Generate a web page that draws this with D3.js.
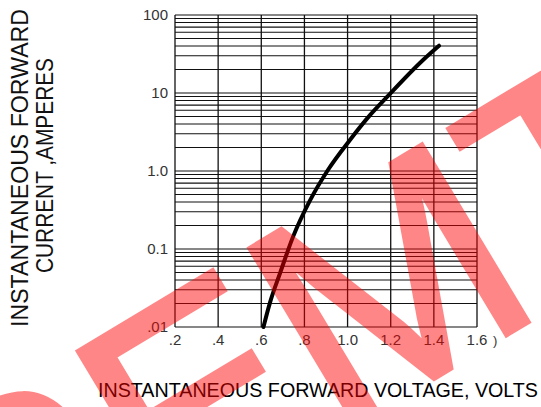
<!DOCTYPE html>
<html>
<head>
<meta charset="utf-8">
<script src="https://cdn.jsdelivr.net/npm/d3@7.9.0/dist/d3.min.js"></script>
<style>
  body { margin: 0; background: #fff; }
  svg { display: block; font-family: "Liberation Sans", Arial, sans-serif; }
</style>
</head>
<body>
<svg id="chart" width="541" height="407"></svg>
<script>
// forward voltage (V) vs instantaneous forward current (A)
const volts = [0.61, 0.64, 0.687, 0.747, 0.826, 0.909, 1.011, 1.104, 1.183, 1.35, 1.424];
const amps = [0.01, 0.0204, 0.049, 0.143, 0.42, 1.03, 2.5, 5.2, 8.9, 26.5, 40.4];

const xTicks = [0.2, 0.4, 0.6, 0.8, 1.0, 1.2, 1.4, 1.6];
const xTickLabels = [".2", ".4", ".6", ".8", "1.0", "1.2", "1.4", "1.6"];
const yTicks = [100, 10, 1, 0.1, 0.01];
const yTickLabels = ["100", "10", "1.0", "0.1", ".01"];

const svg = d3.select("#chart");

const x = d3.scaleLinear().domain([0.2, 1.6]).range([175, 477]);
const y = d3.scaleLog().domain([0.01, 100]).range([327, 15]);

// log grid: every 1..9 in each decade
const hLines = [];
[0.01, 0.1, 1, 10].forEach(dec => {
  for (let k = 1; k < 10; k++) hLines.push(dec * k);
});
hLines.push(100);

const grid = svg.append("g");
grid.selectAll("line.h")
  .data(hLines)
  .join("line")
  .attr("x1", x(0.2)).attr("x2", x(1.6))
  .attr("y1", d => y(d)).attr("y2", d => y(d))
  .attr("stroke", "#111")
  .attr("stroke-width", 1.1);

grid.selectAll("line.v")
  .data(xTicks)
  .join("line")
  .attr("x1", d => x(d)).attr("x2", d => x(d))
  .attr("y1", y(100)).attr("y2", y(0.01))
  .attr("stroke", "#111")
  .attr("stroke-width", 1.3);

// tick labels
svg.append("g").selectAll("text")
  .data(yTicks)
  .join("text")
  .attr("x", 168)
  .attr("y", d => y(d))
  .attr("dy", "0.35em")
  .attr("text-anchor", "end")
  .attr("font-size", 15)
  .attr("fill", "#333")
  .text((d, i) => yTickLabels[i]);

svg.append("g").selectAll("text")
  .data(xTicks)
  .join("text")
  .attr("x", d => x(d))
  .attr("y", 345)
  .attr("text-anchor", "middle")
  .attr("font-size", 15)
  .attr("fill", "#333")
  .text((d, i) => xTickLabels[i]);

svg.append("text")
  .attr("x", 493).attr("y", 345)
  .attr("font-size", 13).attr("fill", "#333")
  .text(")");

// curve
const line = d3.line()
  .x(d => x(d[0]))
  .y(d => y(d[1]))
  .curve(d3.curveMonotoneX);

svg.append("path")
  .datum(volts.map((v, i) => [v, amps[i]]))
  .attr("d", line)
  .attr("fill", "none")
  .attr("stroke", "#000")
  .attr("stroke-width", 4)
  .attr("stroke-linecap", "round");

// axis titles
svg.append("text")
  .attr("transform", "translate(28,168) rotate(-90)")
  .attr("text-anchor", "middle")
  .attr("font-size", 23)
  .attr("textLength", 318)
  .attr("lengthAdjust", "spacingAndGlyphs")
  .attr("fill", "#111")
  .text("INSTANTANEOUS FORWARD");

svg.append("text")
  .attr("transform", "translate(53,165.5) rotate(-90)")
  .attr("text-anchor", "middle")
  .attr("font-size", 23)
  .attr("textLength", 215)
  .attr("lengthAdjust", "spacingAndGlyphs")
  .attr("fill", "#111")
  .text("CURRENT ,AMPERES");

svg.append("text")
  .attr("x", 98).attr("y", 397)
  .attr("font-size", 19.5)
  .attr("textLength", 440)
  .attr("lengthAdjust", "spacingAndGlyphs")
  .attr("fill", "#000")
  .text("INSTANTANEOUS FORWARD VOLTAGE, VOLTS");

// watermark
svg.append("g")
  .attr("opacity", 0.47)
  .append("text")
  .attr("transform", "translate(-8,644) rotate(-31)")
  .attr("font-size", 300)
  .attr("fill", "red")
  .attr("stroke", "red")
  .attr("stroke-width", 5)
  .attr("stroke-linejoin", "miter")
  .text("SEMT");
</script>
</body>
</html>
